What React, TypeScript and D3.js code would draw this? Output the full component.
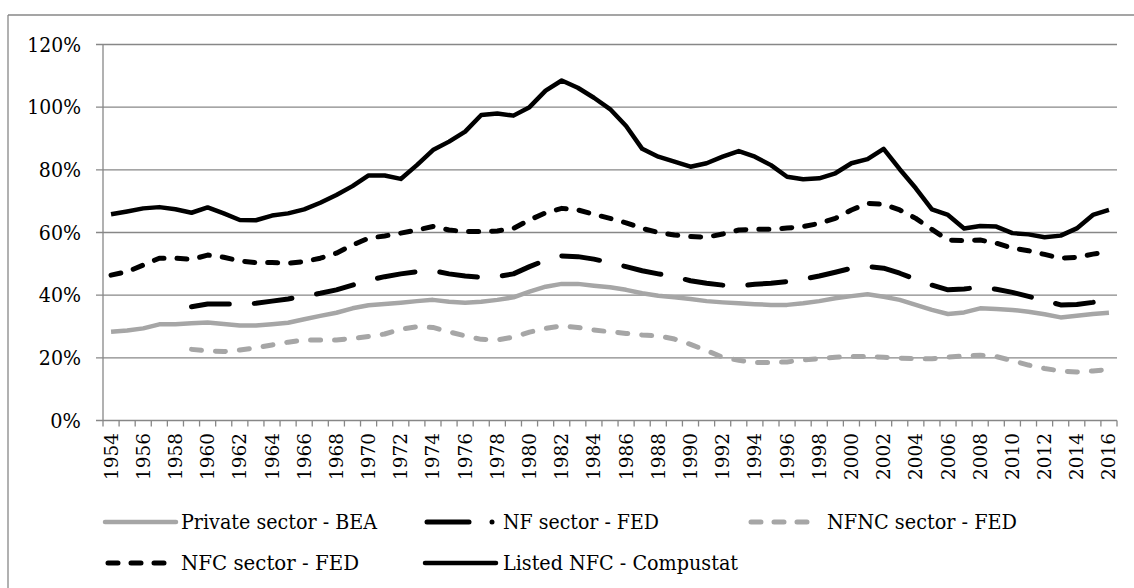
import React from "react";
import * as d3 from "d3";

const years: number[] = d3.range(1954, 2017);

const privateBEA: (number | null)[] = [
  28.3, 28.7, 29.4, 30.7, 30.7, 31.0, 31.3, 30.8, 30.3, 30.3,
  30.7, 31.2, 32.3, 33.4, 34.4, 35.8, 36.8, 37.2, 37.6, 38.1,
  38.5, 37.9, 37.6, 37.9, 38.5, 39.3, 41.1, 42.7, 43.6, 43.6,
  43.0, 42.5, 41.7, 40.6, 39.8, 39.3, 38.8, 38.1, 37.7, 37.4,
  37.1, 36.9, 36.9, 37.4, 38.1, 39.0, 39.7, 40.3, 39.5, 38.5,
  36.9, 35.3, 34.0, 34.5, 35.8, 35.6, 35.3, 34.7, 33.9, 32.9,
  33.4, 34.0, 34.4,
];

const nfFED: (number | null)[] = [
  null, null, null, null, null, 36.3, 37.2, 37.2, 37.2, 37.4,
  38.1, 38.8, 39.7, 40.6, 41.7, 43.2, 44.8, 45.9, 46.8, 47.5,
  47.8, 46.8, 46.1, 45.7, 45.9, 46.8, 49.1, 51.2, 52.5, 52.3,
  51.5, 50.4, 49.1, 47.8, 46.8, 45.9, 44.6, 43.8, 43.2, 43.0,
  43.5, 43.8, 44.3, 45.1, 46.1, 47.3, 48.6, 49.1, 48.6, 47.0,
  45.1, 43.2, 41.7, 42.0, 42.5, 41.9, 40.9, 39.6, 38.3, 36.9,
  37.0, 37.7, 38.6,
];

const nfncFED: (number | null)[] = [
  null, null, null, null, null, 22.7, 22.2, 22.0, 22.5, 23.2,
  24.1, 25.0, 25.7, 25.7, 25.7, 26.2, 26.8, 27.6, 29.1, 29.9,
  29.7, 28.3, 27.0, 25.9, 25.7, 26.6, 28.2, 29.4, 30.2, 29.7,
  28.9, 28.3, 27.8, 27.3, 27.0, 26.0, 24.3, 22.3, 20.2, 19.2,
  18.5, 18.5, 18.7, 19.3, 19.7, 20.2, 20.4, 20.4, 20.2, 19.9,
  19.7, 19.7, 20.2, 20.6, 20.8, 20.4, 19.1, 17.7, 16.6, 15.8,
  15.5, 15.8, 16.3,
];

const nfcFED: (number | null)[] = [
  46.4, 47.5, 49.6, 51.8, 51.8, 51.4, 52.8, 52.1, 50.9, 50.4,
  50.4, 50.2, 50.7, 51.8, 53.4, 56.0, 58.2, 58.9, 59.8, 60.8,
  61.9, 60.8, 60.3, 60.3, 60.5, 61.3, 64.0, 66.3, 67.7, 67.2,
  65.8, 64.5, 63.1, 61.3, 60.0, 59.2, 58.7, 58.5, 59.5, 60.8,
  61.0, 61.0, 61.4, 61.9, 62.9, 64.5, 67.2, 69.3, 69.0, 67.2,
  64.5, 61.0, 57.6, 57.4, 57.6, 56.6, 55.0, 54.2, 53.0, 51.8,
  52.1, 53.1, 53.9,
];

const listedNFC: (number | null)[] = [
  65.8, 66.7, 67.7, 68.1, 67.4, 66.3, 68.0, 66.1, 64.0, 63.9,
  65.4, 66.1, 67.4, 69.5, 72.0, 74.8, 78.2, 78.2, 77.1, 81.5,
  86.3, 89.0, 92.2, 97.5, 98.0, 97.3, 100.0, 105.3, 108.5, 106.2,
  103.0, 99.4, 94.0, 86.7, 84.2, 82.6, 81.0, 82.1, 84.2, 86.0,
  84.2, 81.5, 77.8, 77.0, 77.3, 78.9, 82.1, 83.4, 86.7, 80.2,
  74.1, 67.4, 65.6, 61.3, 62.1, 61.9, 59.8, 59.4, 58.5, 59.0,
  61.3, 65.6, 67.2,
];

const yTicks: number[] = [0, 20, 40, 60, 80, 100, 120];
const xLabelYears: number[] = d3.range(1954, 2017, 2);

interface Series {
  name: string;
  values: (number | null)[];
  color: string;
  width: number;
  dash: string | null;
  legendKind: "solid" | "dash" | "dashdot";
  textWidth: number;
}

const GRAY = "#a6a6a6";

const series: Series[] = [
  { name: "Private sector - BEA", values: privateBEA, color: GRAY, width: 4.5, dash: null, legendKind: "solid", textWidth: 196 },
  { name: "NF sector - FED", values: nfFED, color: "#000", width: 5, dash: "38 25", legendKind: "dashdot", textWidth: 156 },
  { name: "NFNC sector - FED", values: nfncFED, color: GRAY, width: 5, dash: "10 14", legendKind: "dash", textWidth: 190 },
  { name: "NFC sector - FED", values: nfcFED, color: "#000", width: 5, dash: "10 13", legendKind: "dash", textWidth: 178 },
  { name: "Listed NFC - Compustat", values: listedNFC, color: "#000", width: 4.5, dash: null, legendKind: "solid", textWidth: 235 },
];

const drawOrder = [0, 2, 1, 3, 4];

const W = 1134;
const H = 588;
const M = { left: 103, right: 1117, top: 44.5, bottom: 420.5 };
const FONT = '"DejaVu Serif", serif';
const GRID = "#878787";

// Times-like advance widths (em) used to size the labels like the reference
const timesWidth = (s: string) =>
  s.split("").reduce((acc, ch) => acc + (ch === "%" ? 0.833 : 0.5), 0);

export default function App() {
  const x = d3
    .scaleBand<number>()
    .domain(years)
    .range([M.left, M.right])
    .paddingInner(0)
    .paddingOuter(0);
  const y = d3.scaleLinear().domain([0, 120]).range([M.bottom, M.top]);
  const cx = (yr: number) => (x(yr) as number) + x.bandwidth() / 2;

  const line = d3
    .line<[number, number | null]>()
    .defined((d) => d[1] !== null)
    .x((d) => cx(d[0]))
    .y((d) => y(d[1] as number));

  const boundaries = d3.range(0, years.length + 1).map((i) => M.left + i * x.bandwidth());

  const legendCols = [105, 425, 748];
  const legendRows = [522, 563];
  const legendPos = [
    [0, 0],
    [1, 0],
    [2, 0],
    [0, 1],
    [1, 1],
  ];

  const textStyle: React.CSSProperties = { fontFamily: FONT };

  return (
    <svg
      width={W}
      height={H}
      style={{ position: "absolute", left: 0, top: 0, display: "block", fontFamily: FONT }}
    >
      <rect x={0} y={0} width={W} height={H} fill="#fff" />
      {/* outer frame */}
      <line x1={8} y1={15} x2={W} y2={15} stroke={GRID} strokeWidth={1.3} />
      <line x1={8} y1={15} x2={8} y2={H} stroke={GRID} strokeWidth={1.3} />

      {/* gridlines & y ticks */}
      {yTicks.map((t) => {
        const label = `${t}%`;
        const tw = timesWidth(label) * 23;
        return (
          <g key={t}>
            <line x1={96} x2={M.right} y1={y(t)} y2={y(t)} stroke={GRID} strokeWidth={1.3} />
            <text
              x={81 - tw}
              y={y(t)}
              dominantBaseline="central"
              style={textStyle}
              fontSize={21}
              textLength={tw}
              lengthAdjust="spacingAndGlyphs"
              fill="#000"
            >
              {label}
            </text>
          </g>
        );
      })}
      {/* axes */}
      <line x1={M.left} x2={M.left} y1={M.top} y2={M.bottom} stroke={GRID} strokeWidth={1.3} />
      {boundaries.map((bx, i) => (
        <line key={i} x1={bx} x2={bx} y1={M.bottom} y2={M.bottom + 6} stroke={GRID} strokeWidth={1.3} />
      ))}
      {xLabelYears.map((yr) => {
        const tw = 47;
        return (
          <text
            key={yr}
            transform={`translate(${cx(yr)},${433 + tw}) rotate(-90)`}
            x={0}
            y={0}
            dominantBaseline="central"
            style={textStyle}
            fontSize={18.5}
            textLength={tw}
            lengthAdjust="spacingAndGlyphs"
            fill="#000"
          >
            {yr}
          </text>
        );
      })}

      {/* series */}
      {drawOrder.map((i) => {
        const s = series[i];
        const data: [number, number | null][] = years.map((yr, k) => [yr, s.values[k]]);
        return (
          <path
            key={s.name}
            d={line(data) || ""}
            fill="none"
            stroke={s.color}
            strokeWidth={s.width}
            strokeDasharray={s.dash || undefined}
            strokeLinecap={s.dash ? "round" : "butt"}
            strokeLinejoin="round"
          />
        );
      })}

      {/* legend */}
      {series.map((s, i) => {
        const [c, r] = legendPos[i];
        const lx = legendCols[c];
        const ly = legendRows[r];
        let sample: React.ReactNode;
        if (s.legendKind === "solid") {
          sample = (
            <line x1={lx} x2={lx + 71} y1={ly} y2={ly} stroke={s.color} strokeWidth={s.width} strokeLinecap="round" />
          );
        } else if (s.legendKind === "dashdot") {
          sample = (
            <g>
              <line x1={lx + 2} x2={lx + 44} y1={ly} y2={ly} stroke={s.color} strokeWidth={s.width} strokeLinecap="round" />
              <circle cx={lx + 67} cy={ly} r={2.5} fill={s.color} />
            </g>
          );
        } else {
          sample = (
            <line
              x1={lx + 3}
              x2={lx + 60}
              y1={ly}
              y2={ly}
              stroke={s.color}
              strokeWidth={s.width}
              strokeDasharray="10 13"
              strokeLinecap="round"
            />
          );
        }
        const tx = s.legendKind === "dashdot" ? lx + 78 : c === 2 ? lx + 79 : c === 1 ? lx + 78 : lx + 76;
        return (
          <g key={s.name}>
            {sample}
            <text
              x={tx}
              y={ly}
              dominantBaseline="central"
              style={textStyle}
              fontSize={19.5}
              textLength={s.textWidth}
              lengthAdjust="spacingAndGlyphs"
              fill="#000"
            >
              {s.name}
            </text>
          </g>
        );
      })}
    </svg>
  );
}
